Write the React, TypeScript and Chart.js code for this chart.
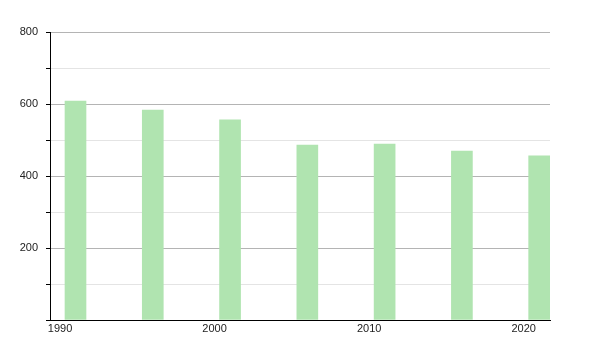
import React, { useEffect, useRef } from "react";
import { Chart, registerables } from "chart.js";

Chart.register(...registerables);

const years = [1991, 1996, 2001, 2006, 2011, 2016, 2021];
const values = [608, 583, 556, 486, 489, 469, 456];
const xTickYears = [1990, 2000, 2010, 2020];
const yLabelValues = [200, 400, 600, 800];

export default function App() {
  const ref = useRef<HTMLCanvasElement | null>(null);
  useEffect(() => {
    if (!ref.current) return;
    const chart = new Chart(ref.current, {
      type: "bar",
      data: {
        datasets: [
          {
            data: years.map((y, i) => ({ x: y, y: values[i] })),
            backgroundColor: "rgb(176,228,176)",
            borderWidth: 0,
            barThickness: 21,
          },
        ],
      },
      options: {
        animation: false,
        responsive: true,
        maintainAspectRatio: false,
        layout: { padding: { top: 32, right: 50, left: 0, bottom: 0 } },
        plugins: { legend: { display: false }, tooltip: { enabled: false } },
        scales: {
          x: {
            type: "linear",
            min: 1989.35,
            max: 2021.7,
            offset: false,
            grid: { display: true, drawOnChartArea: false, drawTicks: false },
            border: { display: true, color: "#000", width: 1 },
            afterBuildTicks: (scale: any) => {
              scale.ticks = xTickYears.map((v) => ({ value: v }));
            },
            afterFit: (scale: any) => {
              scale.height = 30;
            },
            ticks: {
              autoSkip: false,
              maxRotation: 0,
              padding: 2,
              color: "#222",
              font: { family: "'Liberation Sans', Arial, sans-serif", size: 11 },
              callback: (v: any) => String(v),
            },
          },
          y: {
            min: 0,
            max: 800,
            border: { display: true, color: "#000", width: 1 },
            afterFit: (scale: any) => {
              scale.width = 50;
            },
            grid: {
              drawTicks: true,
              tickLength: 4,
              tickColor: "#000",
              color: (ctx: any) => {
                const v = ctx.tick ? ctx.tick.value : 0;
                if (v === 0) return "rgba(0,0,0,0)";
                return v % 200 === 0 ? "#b4b4b4" : "#e4e4e4";
              },
            },
            ticks: {
              stepSize: 100,
              padding: 8,
              color: "#222",
              font: { family: "'Liberation Sans', Arial, sans-serif", size: 11 },
              callback: (v: any) => (yLabelValues.includes(Number(v)) ? String(v) : ""),
            },
          },
        },
      },
    });
    return () => chart.destroy();
  }, []);
  return (
    <div style={{ position: "fixed", left: 0, top: 0, width: 600, height: 350 }}>
      <canvas ref={ref} />
    </div>
  );
}
